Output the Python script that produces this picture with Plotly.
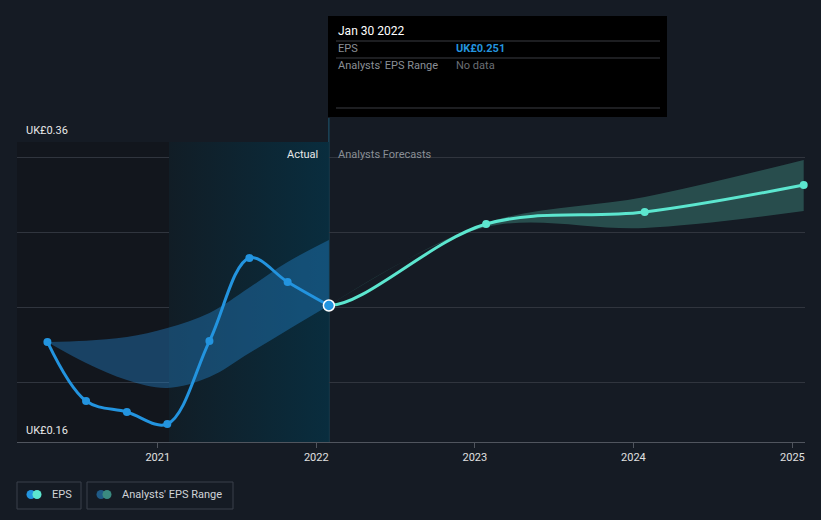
import plotly.graph_objects as go
import pandas as pd

# ---- data ----
actual_dates = ["2020-04-22", "2020-07-20", "2020-10-22", "2021-01-23", "2021-04-30",
                "2021-07-31", "2021-10-27", "2022-01-30"]
actual_eps = [0.2267, 0.1873, 0.180, 0.172, 0.2273, 0.2827, 0.2667, 0.251]

past_range_dates = ["2020-04-22", "2020-07-20", "2020-10-22", "2021-01-23", "2021-04-30",
                    "2021-07-31", "2021-10-27", "2022-01-30"]
past_range_high = [0.2267, 0.2275, 0.230, 0.236, 0.246, 0.263, 0.280, 0.2947]
past_range_low = [0.2267, 0.2127, 0.2013, 0.196, 0.2033, 0.2193, 0.2347, 0.251]

fc_dates = ["2022-01-30", "2023-01-27", "2024-01-27", "2025-01-27"]
fc_eps = [0.251, 0.3053, 0.3133, 0.3313]
fc_high = [0.251, 0.306, 0.3233, 0.348]
fc_low = [0.251, 0.3033, 0.3027, 0.314]

x_range = ["2020-02-12", "2025-01-30"]
y_range = [0.16, 0.36]
year_ticks = ["2021-01-01", "2022-01-01", "2023-01-01", "2024-01-01", "2025-01-01"]
year_labels = ["2021", "2022", "2023", "2024", "2025"]
grid_vals = [0.20, 0.25, 0.30, 0.35, 0.36]
highlight_start = "2021-01-27"
highlight_end = "2022-01-30"

# ---- styling ----
BG = "#151b24"
BLUE = "#2394df"
MINT = "#5ce6cf"
W, H = 821, 520
L, R, T, B = 17, 16, 142, 78
PW, PH = W - L - R, H - T - B
FONT = "Roboto"


def px(x):
    return (x - L) / PW


def py(y):
    return (H - B - y) / PH


t0, t1, tsplit = (pd.Timestamp(v) for v in (x_range[0], x_range[1], highlight_end))
split = (tsplit - t0) / (t1 - t0)

fig = go.Figure()

# highlight background (last year of actuals) with horizontal gradient
fig.add_trace(go.Scatter(
    x=[highlight_start, highlight_end, highlight_end, highlight_start, highlight_start],
    y=[y_range[0], y_range[0], y_range[1], y_range[1], y_range[0]],
    fill="toself", mode="lines", line=dict(width=0),
    fillgradient=dict(type="horizontal",
                      colorscale=[[0, "rgba(17,29,38,1)"], [1, "rgba(9,45,62,1)"]]),
    hoverinfo="skip", showlegend=False))

# past analyst range band
fig.add_trace(go.Scatter(x=past_range_dates, y=past_range_high, mode="lines",
                         line=dict(width=0, shape="spline"), hoverinfo="skip", showlegend=False))
fig.add_trace(go.Scatter(x=past_range_dates, y=past_range_low, mode="lines",
                         line=dict(width=0, shape="spline"), fill="tonexty",
                         fillcolor="rgba(38,140,215,0.38)", hoverinfo="skip", showlegend=False))

# forecast range band
fig.add_trace(go.Scatter(x=fc_dates, y=fc_high, mode="lines",
                         line=dict(width=0, shape="spline"), hoverinfo="skip", showlegend=False))
fig.add_trace(go.Scatter(x=fc_dates, y=fc_low, mode="lines",
                         line=dict(width=0, shape="spline"), fill="tonexty",
                         fillcolor="rgba(72,160,145,0.38)", hoverinfo="skip", showlegend=False))

# actual EPS
fig.add_trace(go.Scatter(x=actual_dates, y=actual_eps, mode="lines+markers",
                         line=dict(color=BLUE, width=3, shape="spline"),
                         marker=dict(color=BLUE, size=8), showlegend=False))
# forecast EPS line: drawn as the continuous series, clipped to the forecast side
fig.add_trace(go.Scatter(x=actual_dates[-2:-1] + fc_dates, y=actual_eps[-2:-1] + fc_eps,
                         mode="lines", line=dict(color=MINT, width=3, shape="spline", smoothing=1.0),
                         xaxis="x2", showlegend=False))
fig.add_trace(go.Scatter(x=fc_dates[1:], y=fc_eps[1:], mode="markers", xaxis="x2",
                         cliponaxis=False, marker=dict(color=MINT, size=8), showlegend=False))
# hovered point (on top of everything)
fig.add_trace(go.Scatter(x=[actual_dates[-1]], y=[actual_eps[-1]], mode="markers",
                         xaxis="x2", cliponaxis=False,
                         marker=dict(color=BLUE, size=11, line=dict(color="white", width=1.5)),
                         showlegend=False))

shapes = []
# dark area before highlight
shapes.append(dict(type="rect", xref="x", yref="paper", x0=x_range[0], x1=highlight_start,
                   y0=0, y1=1, fillcolor="#12161d", line=dict(width=0), layer="below"))
# vertical line at hover date
shapes.append(dict(type="line", xref="x", yref="paper", x0=highlight_end, x1=highlight_end,
                   y0=0, y1=py(118), line=dict(color="#1e5a73", width=1), layer="below"))
# tooltip box
shapes.append(dict(type="rect", xref="paper", yref="paper", x0=px(328), x1=px(667),
                   y0=py(117), y1=py(16), fillcolor="#000000", line=dict(width=0)))
for yy in (41, 58, 108):
    shapes.append(dict(type="line", xref="paper", yref="paper", x0=px(336), x1=px(660),
                       y0=py(yy), y1=py(yy), line=dict(color="#3a3d42", width=1)))
# legend boxes
for x0, x1 in ((17, 81), (87, 233)):
    shapes.append(dict(type="rect", xref="paper", yref="paper", x0=px(x0), x1=px(x1),
                       y0=py(509), y1=py(482), line=dict(color="#3b414b", width=1),
                       fillcolor="rgba(0,0,0,0)"))
for cx, col in ((31, BLUE), (37, MINT), (101, "#1f5a86"), (107, "#3a8a80")):
    shapes.append(dict(type="circle", xref="paper", yref="paper",
                       x0=px(cx - 4.5), x1=px(cx + 4.5), y0=py(499), y1=py(490),
                       fillcolor=col, line=dict(width=0)))

ann = []


def text(x, y, s, color, size=11, anchor="left", bold=False):
    ann.append(dict(x=px(x), y=py(y), xref="paper", yref="paper", text=(f"<b>{s}</b>" if bold else s),
                    showarrow=False, xanchor=anchor, yanchor="middle",
                    font=dict(family=FONT, size=size, color=color)))


text(24, 130, "UK£0.36", "#e8e8e8")
text(24, 430, "UK£0.16", "#e8e8e8")
text(320, 154, "Actual", "#e8e8e8", anchor="right")
text(336, 154, "Analysts Forecasts", "#8a8f96")
text(336, 31, "Jan 30 2022", "#ffffff", size=12)
text(336, 48, "EPS", "#8a8f96")
text(454, 48, "UK£0.251", BLUE, bold=True)
text(336, 66, "Analysts' EPS Range", "#8a8f96")
text(454, 66, "No data", "#6a6e74")
text(50, 494, "EPS", "#d0d3d8")
text(120, 494, "Analysts' EPS Range", "#d0d3d8")

fig.update_layout(
    width=W, height=H, margin=dict(l=L, r=R, t=T, b=B),
    paper_bgcolor=BG, plot_bgcolor="rgba(0,0,0,0)",
    shapes=shapes, annotations=ann, showlegend=False,
    font=dict(family=FONT, color="#d0d3d8"),
    xaxis=dict(type="date", range=x_range, tickvals=year_ticks, ticktext=year_labels,
               showgrid=False, zeroline=False, showline=True, linecolor="#50555e", linewidth=1,
               ticks="outside", ticklen=5, tickcolor="#50555e",
               tickfont=dict(family=FONT, size=11, color="#e0e0e0")),
    xaxis2=dict(type="date", range=[highlight_end, x_range[1]], domain=[split, 1],
                anchor="y", visible=False, showgrid=False, zeroline=False),
    yaxis=dict(range=y_range, tickvals=grid_vals, showticklabels=False,
               showgrid=True, gridcolor="#30353e", gridwidth=1, zeroline=False),
)

fig.write_html("out.html", config={"displayModeBar": False},
               post_script="document.body.style.margin='0';document.body.style.background='%s';" % BG)
